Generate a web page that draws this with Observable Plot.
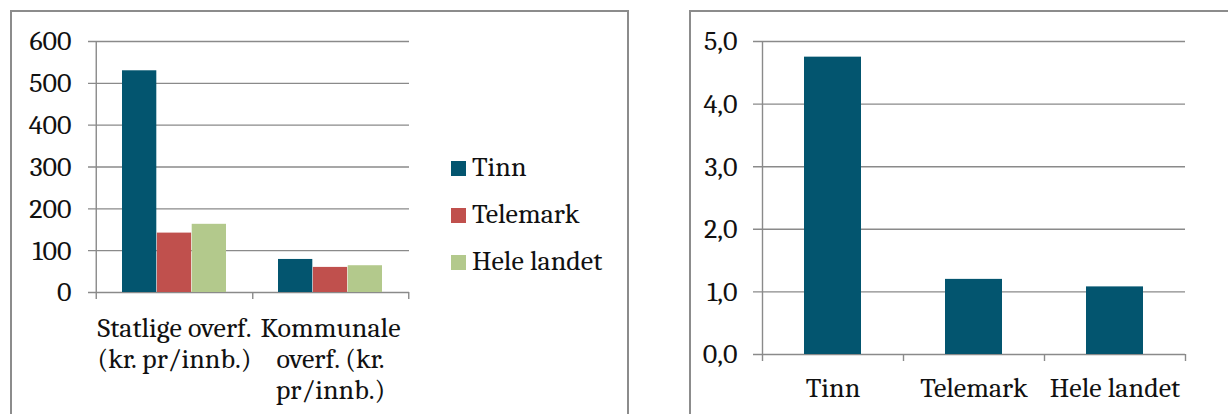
<!DOCTYPE html>
<html><head><meta charset="utf-8">
<script src="https://cdn.jsdelivr.net/npm/d3@7"></script>
<script src="https://cdn.jsdelivr.net/npm/@observablehq/plot@0.6"></script>
<style>
body{margin:0;background:#fff;}
#page{position:relative;width:1228px;height:414px;overflow:hidden;color:#111;}
.panel{position:absolute;border:2px solid #8c8c8c;box-sizing:border-box;}
.chart{position:absolute;top:0;}
.legend{position:absolute;left:451px;top:0;}
.legend .item{position:absolute;left:0;white-space:nowrap;font-size:28px;line-height:1;}
.legend .sw{position:absolute;left:0;width:15px;height:15px;}
.legend .lab{position:absolute;left:21px;}
</style></head><body><div id="page"></div>
<script>
// ---- data ----
const categoriesLeft = ["Statlige overf. (kr. pr/innb.)", "Kommunale overf. (kr. pr/innb.)"];
const categoryLabelsLeft = ["Statlige overf.\n(kr. pr/innb.)", "Kommunale\noverf. (kr.\npr/innb.)"];
const series = ["Tinn", "Telemark", "Hele landet"];
const tinnValues = [530, 79];
const telemarkValues = [142, 60];
const heleLandetValues = [163, 64];
const seriesColors = ["#03556f", "#c0504d", "#b3c98c"];
const yTicksLeft = [0, 100, 200, 300, 400, 500, 600];

const categoriesRight = ["Tinn", "Telemark", "Hele landet"];
const valuesRight = [4.75, 1.2, 1.08];
const yTicksRight = [0, 1, 2, 3, 4, 5];

// ---- layout ----
const page = document.getElementById("page");
const FONT = '"Caladea", "Cambria", "Liberation Serif", serif';
page.style.fontFamily = FONT;
const grid = "#8a8a8a";
const FS = 28;
function panel(l, t, w, h){ const d=document.createElement("div"); d.className="panel"; Object.assign(d.style,{left:l+"px",top:t+"px",width:w+"px",height:h+"px"}); page.appendChild(d); }
panel(10, 10, 619, 430);
panel(689, 10, 600, 430);
const txt = {fontSize: FS, fontFamily: FONT, fill: "#111"};

// ---- left chart ----
const seriesValues = [tinnValues, telemarkValues, heleLandetValues];
const leftData = categoriesLeft.flatMap((c, i) => series.map((s, j) => ({category: c, series: s, value: seriesValues[j][i]})));
const W1 = 440, mL1 = 96, mR1 = 31;
const pI1 = 0.332;
const stepL = (W1 - mL1 - mR1) / categoriesLeft.length;
const bwL = stepL * (1 - pI1);
const barW = bwL / 3;
const left = Plot.plot({
  width: W1, height: 414,
  marginLeft: mL1, marginRight: mR1, marginTop: 41, marginBottom: 122,
  style: {background: "none", fontFamily: FONT, color: "#111"},
  x: {type: "band", domain: categoriesLeft, paddingInner: pI1, paddingOuter: pI1 / 2, axis: null},
  y: {domain: [0, 600], axis: null},
  marks: [
    Plot.ruleY(yTicksLeft, {y: d => d, stroke: grid, strokeWidth: 1.4, insetLeft: -8}),
    ...series.map((s, j) => Plot.barY(leftData.filter(d => d.series === s), {
      x: "category", y: "value", fill: seriesColors[j],
      insetLeft: (bwL - barW) / 2, insetRight: (bwL - barW) / 2, dx: (j - 1) * barW
    })),
    Plot.ruleX([categoriesLeft[0]], {x: d => d, dx: -stepL / 2, y1: 600, y2: 0, insetBottom: -7, stroke: grid, strokeWidth: 1.4}),
    Plot.ruleX(categoriesLeft, {x: d => d, dx: stepL / 2, y1: 0, y2: 0, insetBottom: -7, stroke: grid, strokeWidth: 1.4}),
    Plot.text(yTicksLeft, {y: d => d, frameAnchor: "left", dx: -25, textAnchor: "end", text: d => String(d), ...txt}),
    Plot.text(categoriesLeft, {x: d => d, y: 0, text: d => categoryLabelsLeft[categoriesLeft.indexOf(d)], lineAnchor: "top", dy: 23, lineHeight: 1.1, ...txt})
  ]
});
left.classList.add("chart");
left.style.left = "0px";
page.appendChild(left);

// legend
const leg = document.createElement("div");
leg.className = "legend";
series.forEach((s, j) => {
  const it = document.createElement("div");
  it.className = "item";
  it.style.top = (161 + 47 * j) + "px";
  it.style.fontFamily = FONT;
  it.innerHTML = `<div class="sw" style="background:${seriesColors[j]}"></div><div class="lab" style="top:-8px">${s}</div>`;
  leg.appendChild(it);
});
page.appendChild(leg);

// ---- right chart ----
const W2 = 548, mL2 = 82, mR2 = 43;
const pI2 = 0.596;
const stepR = (W2 - mL2 - mR2) / categoriesRight.length;
const rightData = categoriesRight.map((c, i) => ({category: c, value: valuesRight[i]}));
const fmt = d => d3.format(".1f")(d).replace(".", ",");
const right = Plot.plot({
  width: W2, height: 414,
  marginLeft: mL2, marginRight: mR2, marginTop: 41, marginBottom: 60,
  style: {background: "none", fontFamily: FONT, color: "#111"},
  x: {type: "band", domain: categoriesRight, paddingInner: pI2, paddingOuter: pI2 / 2, axis: null},
  y: {domain: [0, 5], axis: null},
  marks: [
    Plot.ruleY(yTicksRight, {y: d => d, stroke: grid, strokeWidth: 1.4, insetLeft: -9}),
    Plot.barY(rightData, {x: "category", y: "value", fill: seriesColors[0]}),
    Plot.ruleX([categoriesRight[0]], {x: d => d, dx: -stepR / 2, y1: 5, y2: 0, insetBottom: -7, stroke: grid, strokeWidth: 1.4}),
    Plot.ruleX(categoriesRight, {x: d => d, dx: stepR / 2, y1: 0, y2: 0, insetBottom: -7, stroke: grid, strokeWidth: 1.4}),
    Plot.text(yTicksRight, {y: d => d, frameAnchor: "left", dx: -25, textAnchor: "end", text: fmt, ...txt}),
    Plot.text(categoriesRight, {x: d => d, y: 0, text: d => d, lineAnchor: "top", dy: 23, ...txt})
  ]
});
right.classList.add("chart");
right.style.left = "680px";
page.appendChild(right);
</script></body></html>
